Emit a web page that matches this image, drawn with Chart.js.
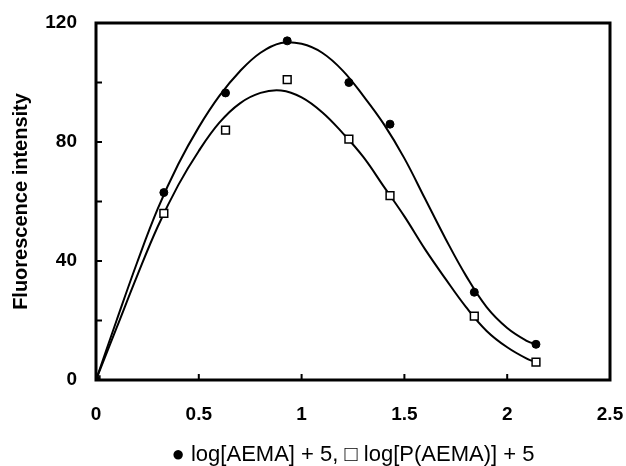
<!DOCTYPE html>
<html>
<head>
<meta charset="utf-8">
<script src="https://cdn.jsdelivr.net/npm/chart.js@4/dist/chart.umd.min.js"></script>
<style>
  body { margin: 0; background: #ffffff; }
</style>
</head>
<body>
<canvas id="fluoChart" width="626" height="466"></canvas>
<script>
// measured points, x = log[conc] + 5
var logConc = [0, 0.33, 0.63, 0.93, 1.23, 1.43, 1.84, 2.14];
var aema = [0, 63, 96.5, 114, 100, 86, 29.5, 12];
var paema = [0, 56, 84, 101, 81, 62, 21.5, 6];

// fitted curves
var fitX = [0, 0.1, 0.2, 0.3, 0.4, 0.5, 0.6, 0.7, 0.8, 0.9, 1.0, 1.1, 1.2, 1.3, 1.4, 1.5, 1.6, 1.7, 1.8, 1.9, 2.0, 2.1, 2.14];
var aemaFit = [0, 20, 39.5, 57.5, 72.5, 85, 95.5, 103.8, 110, 113.3, 113, 110, 104, 95.5, 86, 74.5, 61, 47.5, 35, 24.5, 17.5, 13, 12];
var paemaFit = [0, 17.5, 35, 51.5, 65.5, 77, 86.5, 93, 96.5, 97.3, 95, 90, 83, 75, 65, 55, 44, 34, 24.5, 16.5, 11, 7, 6];

var xTicks = [0.5, 1, 1.5, 2];
var yTicks = [20, 40, 60, 80, 100];

var fontFam = "'Liberation Sans', Arial, Helvetica, sans-serif";

function toPoints(xs, ys) {
    var pts = [];
    for (var i = 0; i < xs.length; i++) {
        pts.push({x: xs[i], y: ys[i]});
    }
    return pts;
}

// box round the plot + inward tick marks
var framePlugin = {
    id: 'frame',
    afterDraw: function(chart) {
        var ctx = chart.ctx;
        var a = chart.chartArea;
        var xs = chart.scales.x;
        var ys = chart.scales.y;
        ctx.save();
        ctx.strokeStyle = '#000';
        ctx.lineWidth = 3;
        ctx.strokeRect(a.left, a.top, a.right - a.left, a.bottom - a.top);
        ctx.lineWidth = 2;
        ctx.beginPath();
        for (var i = 0; i < xTicks.length; i++) {
            var px = xs.getPixelForValue(xTicks[i]);
            ctx.moveTo(px, a.bottom);
            ctx.lineTo(px, a.bottom - 6);
        }
        for (var j = 0; j < yTicks.length; j++) {
            var py = ys.getPixelForValue(yTicks[j]);
            ctx.moveTo(a.left, py);
            ctx.lineTo(a.left + 6, py);
        }
        ctx.stroke();
        ctx.restore();
    }
};

var ctx = document.getElementById('fluoChart');

var graph = new Chart(ctx, {
    type: 'scatter',
    data: {
        datasets: [{
            label: 'log[AEMA] + 5',
            data: toPoints(logConc, aema),
            pointStyle: 'circle',
            pointRadius: 4,
            backgroundColor: '#000',
            borderColor: '#000',
            borderWidth: 1
        }, {
            label: 'log[P(AEMA)] + 5',
            data: toPoints(logConc, paema),
            pointStyle: 'rect',
            pointRadius: 5.5,
            backgroundColor: '#fff',
            borderColor: '#000',
            borderWidth: 1.5
        }, {
            label: 'AEMA fit',
            data: toPoints(fitX, aemaFit),
            showLine: true,
            pointRadius: 0,
            borderColor: '#000',
            borderWidth: 2,
            tension: 0.4
        }, {
            label: 'P(AEMA) fit',
            data: toPoints(fitX, paemaFit),
            showLine: true,
            pointRadius: 0,
            borderColor: '#000',
            borderWidth: 2,
            tension: 0.4
        }]
    },
    options: {
        responsive: false,
        animation: false,
        layout: {
            padding: 0
        },
        plugins: {
            legend: {display: false},
            tooltip: {enabled: false}
        },
        scales: {
            x: {
                type: 'linear',
                min: 0,
                max: 2.5,
                grid: {display: false, drawTicks: false},
                border: {display: false},
                ticks: {
                    stepSize: 0.5,
                    padding: 23,
                    color: '#000',
                    font: {family: fontFam, size: 19, weight: 'bold'},
                    callback: function(v) { return String(v); }
                },
                title: {
                    display: true,
                    text: '\u25CF log[AEMA] + 5, \u25A1 log[P(AEMA)] + 5',
                    color: '#000',
                    padding: {top: 0, bottom: 0},
                    font: {family: fontFam, size: 22, lineHeight: 1}
                },
                afterFit: function(scale) {
                    scale.height = 86;
                    scale.paddingLeft = 0;
                    scale.paddingRight = 16;
                }
            },
            y: {
                type: 'linear',
                min: 0,
                max: 120,
                grid: {display: false, drawTicks: false},
                border: {display: false},
                ticks: {
                    stepSize: 40,
                    padding: 19,
                    color: '#000',
                    font: {family: fontFam, size: 19, weight: 'bold'}
                },
                title: {
                    display: true,
                    text: 'Fluorescence intensity',
                    color: '#000',
                    padding: {top: 9, bottom: 0},
                    font: {family: fontFam, size: 20, weight: 'bold'}
                },
                afterFit: function(scale) {
                    scale.width = 96;
                    scale.paddingTop = 23;
                    scale.paddingBottom = 0;
                }
            }
        }
    },
    plugins: [framePlugin]
});
</script>
</body>
</html>
